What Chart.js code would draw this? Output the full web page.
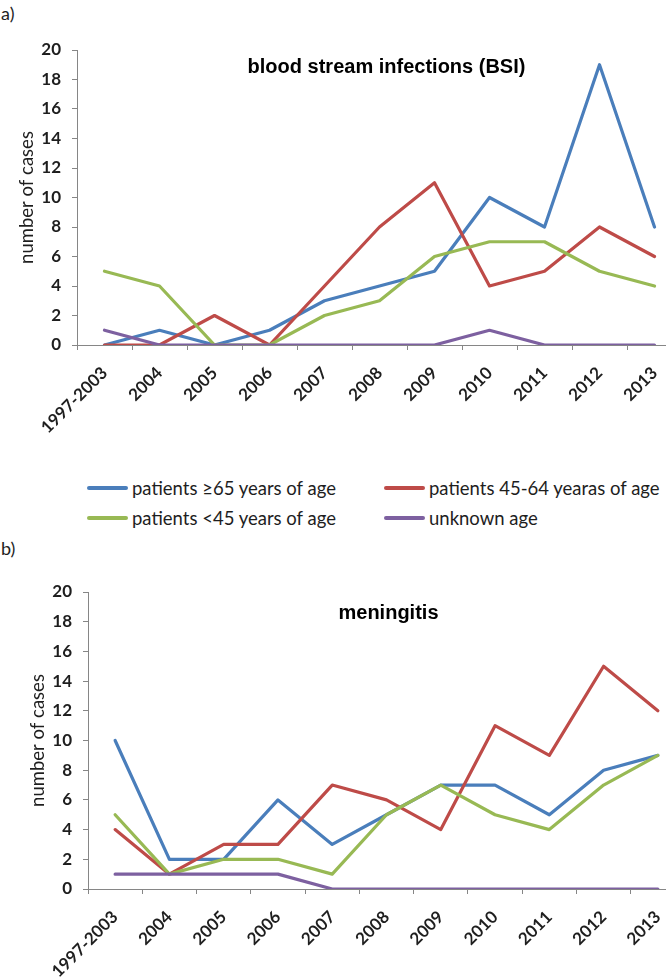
<!DOCTYPE html>
<html lang="en">
<head>
<meta charset="UTF-8" />
<title>BSI and meningitis cases by age group</title>
<script src="https://cdn.jsdelivr.net/npm/chart.js"></script>
<style>
  html, body { margin: 0; padding: 0; background: #fff; }
  body { width: 666px; height: 978px; overflow: hidden; position: relative; font-family: Lato, sans-serif; color: #1e1e1e; }
  .panel-label { position: absolute; left: 1px; font-size: 18px; }
  .chart-box { position: absolute; left: 0; width: 700px; }
  .legend { position: absolute; left: 0; top: 477px; width: 666px; height: 60px; font-size: 18.5px; }
  .legend-item { position: absolute; display: flex; align-items: center; white-space: nowrap; }
  .legend-item .swatch { display: inline-block; width: 41px; height: 4px; border-radius: 2px; margin-right: 4px; }
</style>
</head>
<body>
  <div class="panel-label" style="top:2px">a)</div>
  <div class="chart-box" style="top:0; height:445px"><canvas id="bsiChart"></canvas></div>

  <div class="legend" id="legend"></div>

  <div class="panel-label" style="top:537px">b)</div>
  <div class="chart-box" style="top:560px; height:418px"><canvas id="menChart"></canvas></div>

<script>
// categories on the x axis
const years = ['1997-2003', '2004', '2005', '2006', '2007', '2008', '2009', '2010', '2011', '2012', '2013'];

// series names and colours (same for both panels)
const seriesNames = ['patients \u226565 years of age', 'patients 45-64 yearas of age', 'patients <45 years of age', 'unknown age'];
const seriesColors = ['#4a7ebb', '#be4b48', '#98b954', '#7d60a0'];

// a) blood stream infections
const bsiOver65 = [0, 1, 0, 1, 3, 4, 5, 10, 8, 19, 8];
const bsi45to64 = [0, 0, 2, 0, 4, 8, 11, 4, 5, 8, 6];
const bsiUnder45 = [5, 4, 0, 0, 2, 3, 6, 7, 7, 5, 4];
const bsiUnknown = [1, 0, 0, 0, 0, 0, 0, 1, 0, 0, 0];

// b) meningitis
const menOver65 = [10, 2, 2, 6, 3, 5, 7, 7, 5, 8, 9];
const men45to64 = [4, 1, 3, 3, 7, 6, 4, 11, 9, 15, 12];
const menUnder45 = [5, 1, 2, 2, 1, 5, 7, 5, 4, 7, 9];
const menUnknown = [1, 1, 1, 1, 0, 0, 0, 0, 0, 0, 0];

const axisGray = '#868686';
Chart.defaults.font.family = 'Lato';
Chart.defaults.color = '#1e1e1e';

// title drawn inside the plot area, like the Excel original
const insideTitle = {
  id: 'insideTitle',
  afterDraw(chart, args, opts) {
    const {ctx, chartArea} = chart;
    ctx.save();
    ctx.font = 'bold 20px "Liberation Sans", Arial, sans-serif';
    ctx.fillStyle = '#000';
    ctx.textAlign = 'center';
    ctx.textBaseline = 'middle';
    ctx.fillText(opts.text, (chartArea.left + chartArea.right) / 2 + opts.dx, chartArea.top + opts.dy);
    ctx.restore();
  }
};

function makeDatasets(seriesList){
  // purple drawn last (on top), like Excel series order
  return seriesList.map((data, i) => ({
    label: seriesNames[i],
    data,
    borderColor: seriesColors[i],
    backgroundColor: seriesColors[i],
    borderWidth: 3.2,
    pointRadius: 0,
    tension: 0,
    borderJoinStyle: 'round',
    borderCapStyle: 'round',
    order: seriesList.length - i
  }));
}

function makeChart(id, seriesList, title, box){
  return new Chart(document.getElementById(id), {
    type: 'line',
    data: { labels: years, datasets: makeDatasets(seriesList) },
    plugins: [insideTitle],
    options: {
      responsive: true,
      maintainAspectRatio: false,
      animation: false,
      layout: { padding: { top: box.top, right: box.right, left: 0, bottom: 0 } },
      plugins: {
        legend: { display: false },
        tooltip: { enabled: false },
        insideTitle: { text: title, dx: box.titleDx, dy: box.titleDy }
      },
      scales: {
        x: {
          offset: true,
          grid: { display: true, offset: true, drawOnChartArea: false, drawTicks: true, tickLength: 5, color: axisGray },
          border: { color: axisGray, width: 1 },
          ticks: {
            autoSkip: false, maxRotation: 45, minRotation: 45, padding: 13,
            font: { size: 17, weight: 'bold' }
          },
          afterFit(scale){ scale.height = box.xHeight; }
        },
        y: {
          min: 0, max: 20,
          grid: { display: true, drawOnChartArea: false, drawTicks: true, tickLength: 5, color: axisGray },
          border: { color: axisGray, width: 1 },
          ticks: { stepSize: 2, padding: 11, font: { size: 17, weight: 'bold' } },
          title: { display: true, text: 'number of cases', font: { size: 18.5 }, padding: { top: box.yTitlePad, bottom: 0 } },
          afterFit(scale){ scale.width = box.yWidth; }
        }
      }
    }
  });
}

makeChart('bsiChart', [bsiOver65, bsi45to64, bsiUnder45, bsiUnknown], 'blood stream infections (BSI)',
  { top: 50, right: 18, xHeight: 100, yWidth: 77, yTitlePad: 16, titleDx: 7, titleDy: 17 });

makeChart('menChart', [menOver65, men45to64, menUnder45, menUnknown], 'meningitis',
  { top: 32, right: 15, xHeight: 89, yWidth: 88, yTitlePad: 27, titleDx: 2, titleDy: 21 });

// two-column legend between the panels
const legendPos = [
  { left: 87, top: 0 }, { left: 384, top: 0 },
  { left: 87, top: 30 }, { left: 384, top: 30 }
];
const legend = document.getElementById('legend');
seriesNames.forEach((name, i) => {
  const item = document.createElement('div');
  item.className = 'legend-item';
  item.style.left = legendPos[i].left + 'px';
  item.style.top = legendPos[i].top + 'px';
  item.innerHTML = `<span class="swatch" style="background:${seriesColors[i]}"></span><span></span>`;
  item.lastChild.textContent = name;
  legend.appendChild(item);
});
</script>
</body>
</html>
